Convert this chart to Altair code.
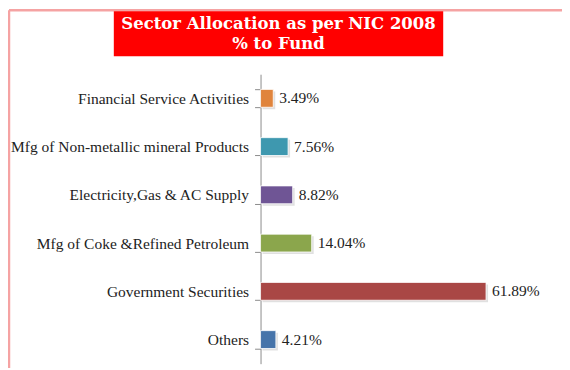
import altair as alt
import pandas as pd

categories = [
    "Financial Service Activities",
    "Mfg of Non-metallic mineral Products",
    "Electricity,Gas & AC Supply",
    "Mfg of Coke &Refined Petroleum",
    "Government Securities",
    "Others",
]
values = [3.49, 7.56, 8.82, 14.04, 61.89, 4.21]
colors = ["#E0843C", "#3E98AF", "#6F5595", "#8BA64C", "#A94745", "#4674AA"]
title_lines = ["Sector Allocation as per NIC 2008", "% to Fund"]

df = pd.DataFrame({
    "category": categories,
    "value": values,
    "label": [f"{v:.2f}%" for v in values],
})

W, H = 292, 290
y_enc = alt.Y(
    "category:N",
    sort=categories,
    scale=alt.Scale(paddingInner=0.63, paddingOuter=0.315),
    axis=alt.Axis(
        title=None,
        labelFont="Liberation Serif",
        labelFontSize=15.5,
        labelColor="#222222",
        labelPadding=6,
        labelLimit=320,
        tickBand="extent",
        tickSize=6,
        tickColor="#8c8c8c",
        domainColor="#8c8c8c",
        grid=False,
    ),
)
x_enc = alt.X("value:Q", scale=alt.Scale(domain=[0, 80]), axis=None)

base = alt.Chart(df)

shadow = base.mark_bar(color="#000000", opacity=0.12, xOffset=2, yOffset=2).encode(y=y_enc, x=x_enc)

bars = base.mark_bar(stroke="#ffffff", strokeWidth=0.8).encode(
    y=y_enc,
    x=x_enc,
    color=alt.Color("category:N", scale=alt.Scale(domain=categories, range=colors), legend=None),
)

labels = base.mark_text(
    align="left", baseline="middle", dx=6, font="Liberation Serif", fontSize=15.5, color="#222222"
).encode(y=y_enc, x=x_enc, text="label:N")

one = alt.Chart(pd.DataFrame({"a": [0]}))

border_top = one.mark_rule(color="#F5A3A3", strokeWidth=2.5, clip=False).encode(
    x=alt.value(-252), x2=alt.value(W + 20), y=alt.value(-64)
)
border_left = one.mark_rule(color="#F5A3A3", strokeWidth=2.5, clip=False).encode(
    x=alt.value(-252), y=alt.value(-64), y2=alt.value(H + 10)
)

title_box = one.mark_rect(color="#FF0000").encode(
    x=alt.value(-147), x2=alt.value(183), y=alt.value(-63), y2=alt.value(-18)
)
title1 = alt.Chart(pd.DataFrame({"t": [title_lines[0]]})).mark_text(
    font="DejaVu Serif", fontWeight="bold", fontSize=16.5, color="white", align="center", baseline="middle"
).encode(text="t:N", x=alt.value(18), y=alt.value(-50))
title2 = alt.Chart(pd.DataFrame({"t": [title_lines[1]]})).mark_text(
    font="DejaVu Serif", fontWeight="bold", fontSize=16.5, color="white", align="center", baseline="middle"
).encode(text="t:N", x=alt.value(18), y=alt.value(-30))

chart = alt.layer(
    border_top, border_left, title_box, title1, title2, shadow, bars, labels
).properties(
    width=W,
    height=H,
    autosize=alt.AutoSizeParams(type="none"),
    padding={"left": 253, "top": 66, "right": 10, "bottom": 4},
    background="white",
).configure_view(stroke=None)

chart.save("out.html", embed_options={"renderer": "svg", "actions": False})
